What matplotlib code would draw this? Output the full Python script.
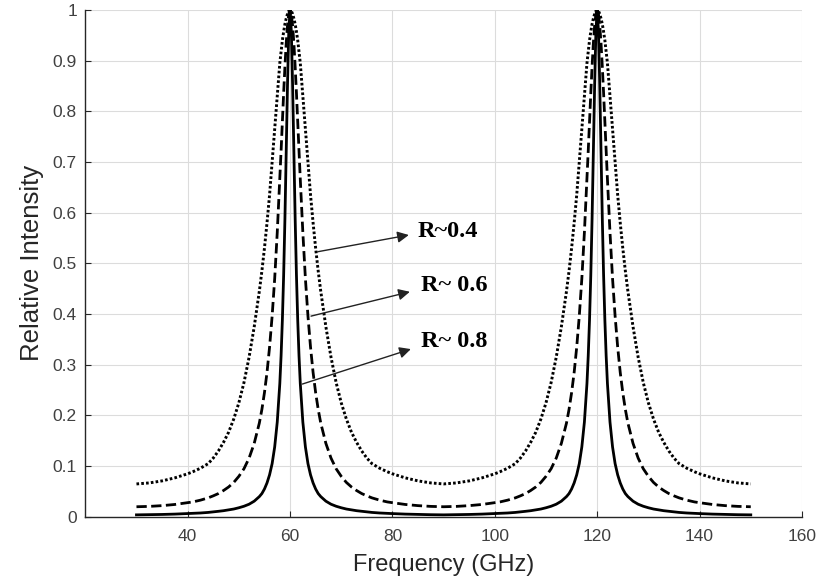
import numpy as np
import matplotlib
matplotlib.use("Agg")
import matplotlib.pyplot as plt

# Half-profile of each resonance:
# distance from the peak centre (GHz) -> relative intensity
offsets = [0, 0.25, 0.5, 0.75, 1, 1.25, 1.5, 1.75, 2, 2.5, 3, 3.5, 4, 4.5,
           5, 5.5, 6, 7, 8, 9, 10, 11, 12, 13, 14, 15, 16, 17.5, 19, 20,
           22.5, 25, 27.5, 30]
r04 = [1.0, 0.998, 0.992, 0.983, 0.972, 0.957, 0.94, 0.918, 0.895, 0.83,
       0.765, 0.70, 0.635, 0.58, 0.53, 0.485, 0.445, 0.375, 0.315, 0.265,
       0.225, 0.193, 0.167, 0.147, 0.13, 0.116, 0.105, 0.096, 0.089,
       0.085, 0.077, 0.071, 0.067, 0.065]
r06 = [1.0, 0.992, 0.969, 0.934, 0.888, 0.836, 0.779, 0.722, 0.666, 0.561,
       0.47, 0.396, 0.335, 0.285, 0.245, 0.212, 0.185, 0.145, 0.116, 0.095,
       0.08, 0.068, 0.059, 0.052, 0.046, 0.0415, 0.0375, 0.033, 0.0295,
       0.028, 0.0245, 0.0222, 0.0207, 0.020]
r08 = [1.0, 0.958, 0.851, 0.717, 0.588, 0.477, 0.388, 0.318, 0.263, 0.187,
       0.138, 0.105, 0.083, 0.067, 0.055, 0.046, 0.04, 0.031, 0.025, 0.021,
       0.018, 0.0155, 0.0138, 0.0122, 0.011, 0.0098, 0.0088, 0.0077,
       0.0069, 0.0065, 0.0055, 0.0048, 0.0043, 0.004]
peaks = [60, 120]  # GHz

labels = ["R~0.4", "R~ 0.6", "R~ 0.8"]
xticks = [40, 60, 80, 100, 120, 140, 160]
yticks = [0, 0.1, 0.2, 0.3, 0.4, 0.5, 0.6, 0.7, 0.8, 0.9, 1]
ytick_labels = ["0", "0.1", "0.2", "0.3", "0.4", "0.5", "0.6", "0.7",
                "0.8", "0.9", "1"]


# Put the half-profile on both sides of every peak
def build_curve(profile):
    d = np.array(offsets)
    v = np.array(profile)
    xs, ys = [], []
    for p in peaks:
        xs += [p - d[::-1], p + d[1:]]
        ys += [v[::-1], v[1:]]
    return np.concatenate(xs), np.concatenate(ys)


plt.rcParams['font.family'] = ['Liberation Sans', 'DejaVu Sans']

fig = plt.figure(figsize=(8.2, 5.83), dpi=100)
ax = fig.add_axes([0.104, 0.1134, 0.874, 0.8696])

x, y = build_curve(r04)
ax.plot(x, y, color='black', lw=2.1, linestyle=(0, (0.9, 0.75)))
x, y = build_curve(r06)
ax.plot(x, y, color='black', lw=2.0, linestyle='--')
x, y = build_curve(r08)
ax.plot(x, y, color='black', lw=2.0)

ax.set_xlim(20, 160)
ax.set_ylim(0, 1)
ax.set_xticks(xticks)
ax.set_yticks(yticks)
ax.set_yticklabels(ytick_labels)

ax.grid(True, color='#dcdcdc', lw=0.8)
ax.set_axisbelow(True)
for side in ['top', 'right']:
    ax.spines[side].set_visible(False)
for side in ['left', 'bottom']:
    ax.spines[side].set_color('#262626')
    ax.spines[side].set_linewidth(1.0)
ax.tick_params(direction='in', length=4, width=0.8, colors='#262626',
               labelcolor='#404040', labelsize=12.5, pad=6)
ax.tick_params(axis='x', pad=9)

ax.set_xlabel("Frequency (GHz)", fontsize=17, color='#262626', labelpad=7)
ax.set_ylabel("Relative Intensity", fontsize=18.5, color='#262626',
              labelpad=6)

# Arrows pointing from the curves to the R labels
arrow_tails = [(65.4, 0.523), (64.1, 0.396), (62.4, 0.262)]
arrow_tips = [(83.2, 0.556), (83.4, 0.444), (83.6, 0.331)]
text_pos = [(84.9, 0.5625), (85.5, 0.457), (85.5, 0.346)]
for lab, tail, tip, tp in zip(labels, arrow_tails, arrow_tips, text_pos):
    ax.annotate("", xy=tip, xytext=tail,
                arrowprops=dict(arrowstyle='-|>', color='#222222', lw=1.0,
                                mutation_scale=17, shrinkA=0, shrinkB=0))
    ax.text(tp[0], tp[1], lab, family='Liberation Serif', weight='bold',
            fontsize=17.5, va='center', ha='left', color='black')

fig.savefig("out.png", dpi=100)
